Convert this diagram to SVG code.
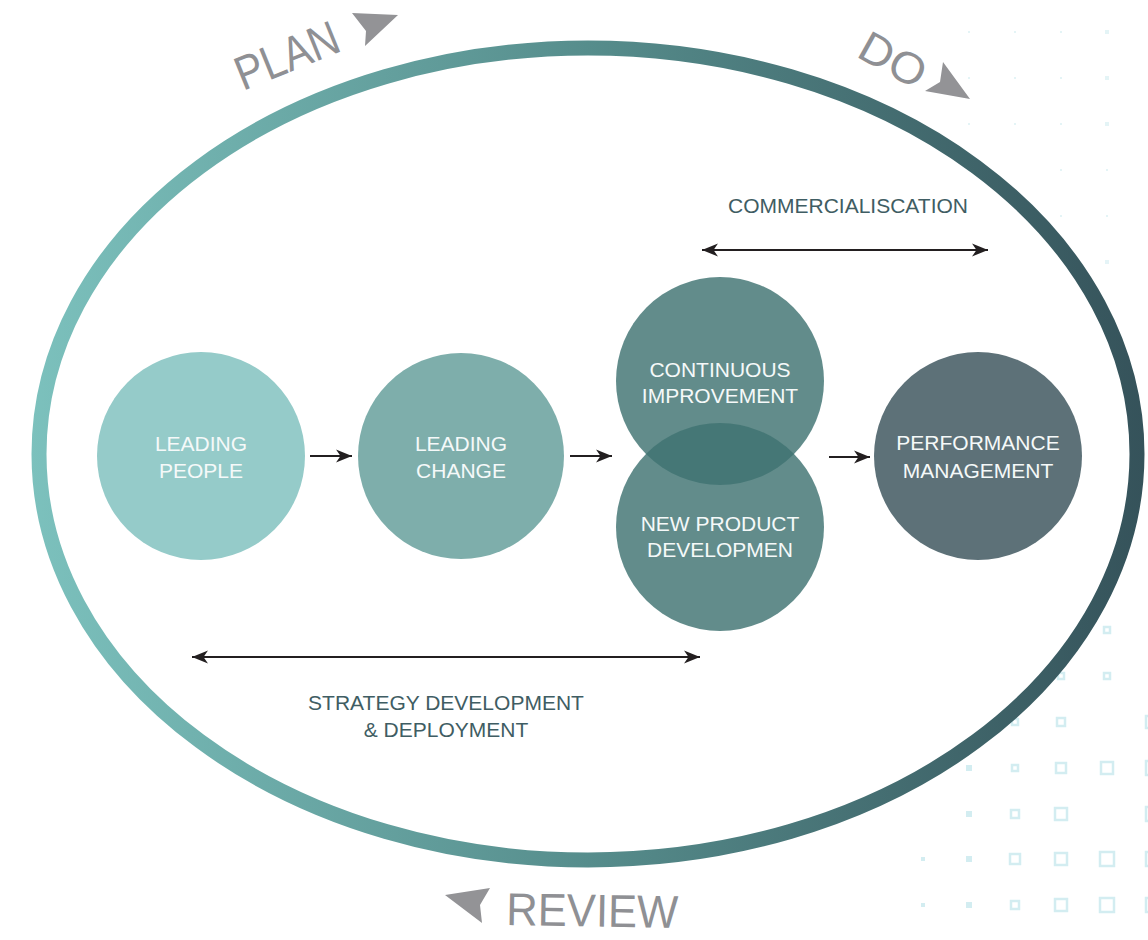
<svg xmlns="http://www.w3.org/2000/svg" width="1148" height="940" viewBox="0 0 1148 940">
  <defs>
    <linearGradient id="ringGrad" gradientUnits="userSpaceOnUse" x1="30" y1="0" x2="1146" y2="0">
      <stop offset="0" stop-color="#7cc1bd"/>
      <stop offset="0.5" stop-color="#568d8c"/>
      <stop offset="1" stop-color="#35525a"/>
    </linearGradient>
    <marker id="ah" markerUnits="userSpaceOnUse" markerWidth="18" markerHeight="14" refX="16" refY="7" orient="auto-start-reverse">
      <path d="M0,0.5 L16,7 L0,13.5 L4.5,7 Z" fill="#231f20"/>
    </marker>
    <style>
      .node-text { font-family: "Liberation Sans", Arial, sans-serif; font-size: 21px; fill: #f5f9f9; text-anchor: middle; }
      .label { font-family: "Liberation Sans", Arial, sans-serif; font-size: 21px; fill: #3f5d63; text-anchor: middle; }
      .phase { font-family: "Liberation Sans", Arial, sans-serif; fill: #8f9094; }
      .phase-arrow { fill: #939396; }
      .conn { stroke: #231f20; stroke-width: 2.2; fill: none; }
      .sq { fill: none; stroke: #d3edf1; stroke-width: 2.5; }
      .dot { fill: #d3edf1; }
    </style>
  </defs>

  <rect width="1148" height="940" fill="#ffffff"/>

  <g id="decor-grid">
    <g opacity="0.6">
      <rect class="dot" x="968" y="31" width="2" height="2"/>
      <rect class="dot" x="1014" y="31" width="2" height="2"/>
      <rect class="dot" x="1060" y="31" width="2" height="2"/>
      <rect class="dot" x="1105" y="30" width="4" height="4"/>
      <rect class="dot" x="968" y="77" width="2" height="2"/>
      <rect class="dot" x="1014" y="77" width="2" height="2"/>
      <rect class="dot" x="1060" y="77" width="2" height="2"/>
      <rect class="dot" x="1105" y="76" width="4" height="4"/>
      <rect class="dot" x="968" y="123" width="2" height="2"/>
      <rect class="dot" x="1014" y="123" width="2" height="2"/>
      <rect class="dot" x="1060" y="123" width="2" height="2"/>
      <rect class="dot" x="1105" y="122" width="4" height="4"/>
      <rect class="dot" x="1060" y="169" width="2" height="2"/>
      <rect class="dot" x="1106" y="169" width="2" height="2"/>
      <rect class="dot" x="1060" y="215" width="2" height="2"/>
      <rect class="dot" x="1106" y="215" width="2" height="2"/>
      <rect class="dot" x="1105" y="260" width="4" height="4"/>
    </g>
    <rect class="sq" x="1104" y="627" width="6" height="6"/>
    <rect class="sq" x="1058" y="673" width="6" height="6"/>
    <rect class="sq" x="1104" y="673" width="6" height="6"/>
    <rect class="sq" x="1012" y="719" width="6" height="6"/>
    <rect class="sq" x="1057" y="718" width="8" height="8"/>
    <rect class="sq" x="1146" y="716" width="10" height="12"/>
    <rect class="dot" x="966" y="765" width="6" height="6"/>
    <rect class="sq" x="1012" y="765" width="6" height="6"/>
    <rect class="sq" x="1056" y="763" width="10" height="10"/>
    <rect class="sq" x="1101" y="762" width="12" height="12"/>
    <rect class="sq" x="1146" y="761" width="10" height="14"/>
    <rect class="dot" x="966" y="811" width="6" height="6"/>
    <rect class="sq" x="1011" y="810" width="8" height="8"/>
    <rect class="sq" x="1055" y="808" width="12" height="12"/>
    <rect class="sq" x="1146" y="807" width="10" height="14"/>
    <rect class="dot" x="921" y="857" width="4" height="4"/>
    <rect class="dot" x="966" y="856" width="6" height="6"/>
    <rect class="sq" x="1010" y="854" width="10" height="10"/>
    <rect class="sq" x="1055" y="853" width="12" height="12"/>
    <rect class="sq" x="1100" y="852" width="14" height="14"/>
    <rect class="sq" x="1146" y="852" width="10" height="14"/>
    <rect class="dot" x="921" y="903" width="4" height="4"/>
    <rect class="dot" x="966" y="902" width="6" height="6"/>
    <rect class="sq" x="1011" y="901" width="8" height="8"/>
    <rect class="sq" x="1055" y="899" width="12" height="12"/>
    <rect class="sq" x="1100" y="898" width="14" height="14"/>
    <rect class="sq" x="1146" y="898" width="10" height="14"/>
  </g>

  <g id="cycle-ring">
    <ellipse cx="588" cy="454" rx="549" ry="406" fill="none" stroke="url(#ringGrad)" stroke-width="15"/>
  </g>

  <g id="phase-plan">
    <text class="phase" x="243" y="91" font-size="48" textLength="108" lengthAdjust="spacingAndGlyphs" transform="rotate(-22 243 91)">PLAN</text>
    <polygon class="phase-arrow" points="352,13 398,15 365,46 366,31"/>
  </g>
  <g id="phase-do">
    <text class="phase" x="855" y="56" font-size="44" textLength="70" lengthAdjust="spacingAndGlyphs" transform="rotate(29 855 56)">DO</text>
    <polygon class="phase-arrow" points="943,62 970,99 925,91 940,82"/>
  </g>
  <g id="phase-review">
    <text class="phase" x="506" y="925" font-size="46" textLength="172" lengthAdjust="spacingAndGlyphs" transform="rotate(1 506 925)">REVIEW</text>
    <polygon class="phase-arrow" points="445,895 490,888 480,905 482,923"/>
  </g>

  <g id="node-leading-people">
    <circle cx="201" cy="456" r="104" fill="#95cbc9"/>
    <text class="node-text" x="201" y="451">LEADING</text>
    <text class="node-text" x="201" y="478">PEOPLE</text>
  </g>
  <g id="node-leading-change">
    <circle cx="461" cy="456" r="103" fill="#7eaeab"/>
    <text class="node-text" x="461" y="451">LEADING</text>
    <text class="node-text" x="461" y="478">CHANGE</text>
  </g>
  <g id="node-continuous-improvement">
    <circle cx="720" cy="381" r="104" fill="#407371" fill-opacity="0.82"/>
  </g>
  <g id="node-new-product-development">
    <circle cx="720" cy="527" r="104" fill="#407371" fill-opacity="0.82"/>
    <text class="node-text" x="720" y="531">NEW PRODUCT</text>
    <text class="node-text" x="720" y="557">DEVELOPMEN</text>
  </g>
  <g id="node-continuous-improvement-label">
    <text class="node-text" x="720" y="377">CONTINUOUS</text>
    <text class="node-text" x="720" y="403">IMPROVEMENT</text>
  </g>
  <g id="node-performance-management">
    <circle cx="978" cy="456" r="104" fill="#5d7178"/>
    <text class="node-text" x="978" y="450">PERFORMANCE</text>
    <text class="node-text" x="978" y="478">MANAGEMENT</text>
  </g>

  <g id="connectors">
    <line class="conn" x1="310" y1="456" x2="352" y2="456" marker-end="url(#ah)"/>
    <line class="conn" x1="570" y1="456" x2="612" y2="456" marker-end="url(#ah)"/>
    <line class="conn" x1="829" y1="457" x2="870" y2="457" marker-end="url(#ah)"/>
    <line class="conn" x1="702" y1="250" x2="988" y2="250" marker-start="url(#ah)" marker-end="url(#ah)"/>
    <line class="conn" x1="192" y1="657" x2="700" y2="657" marker-start="url(#ah)" marker-end="url(#ah)"/>
  </g>

  <g id="label-commercialisation">
    <text class="label" x="848" y="213">COMMERCIALISCATION</text>
  </g>
  <g id="label-strategy">
    <text class="label" x="446" y="710">STRATEGY DEVELOPMENT</text>
    <text class="label" x="446" y="737">&amp; DEPLOYMENT</text>
  </g>
</svg>
